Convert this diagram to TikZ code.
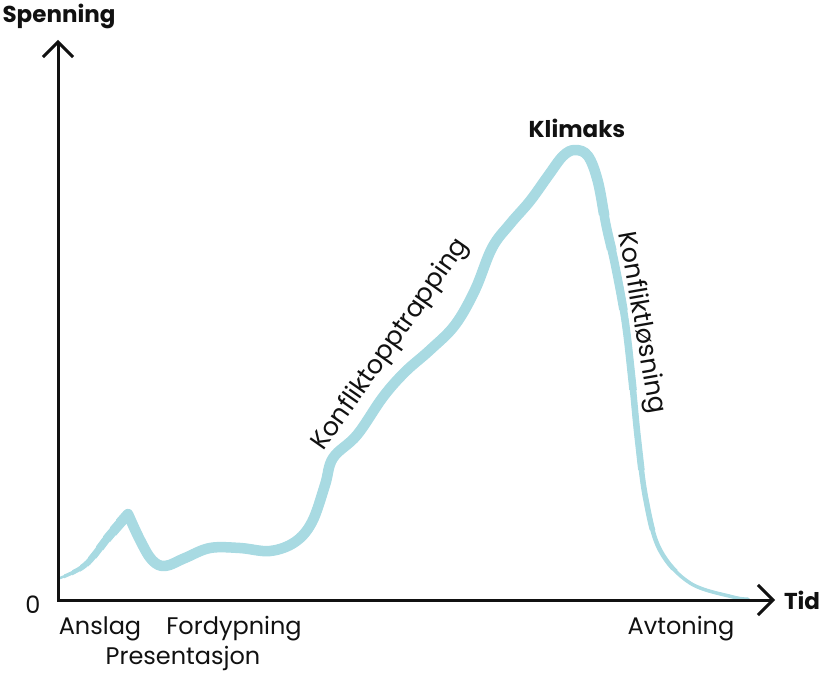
\documentclass[tikz,border=0pt]{standalone}
\usepackage{fontspec}
\setmainfont{Poppins}
\usetikzlibrary{arrows.meta}
\definecolor{kurveblaa}{HTML}{A8DAE2}
\definecolor{tekst}{HTML}{111111}

\begin{document}
\begin{tikzpicture}[
    x=1pt, y=-1pt,
    >={Straight Barb[length=15pt, width=30pt]},
    akse/.style={<->, line width=3pt, tekst, line join=miter},
    kurve/.style={kurveblaa, line cap=round, line join=round},
    kurvebane/.style={insert path={
      plot[smooth, tension=.6] coordinates {
        (60,578) (85,565) (108,537) (128,514)}
      plot[smooth, tension=.6] coordinates {
        (128,514) (140,540) (152,560) (165,566) (185,558) (210,548) (240,548)
        (270,551) (295,542) (312,522) (325,485) (333,458) (357,435) (383,397)
        (405,372) (430,350) (455,325) (475,290) (492,248) (510,224) (530,201)
        (548,176) (563,156) (575,150) (588,156) (598,182) (606,225) (615,265)
        (625,320) (632,380) (638,440) (646,500) (660,550) (690,583) (733,597)
        (748,599)}}},
    lbl/.style={font=\fontsize{24}{28}\selectfont, text=tekst, inner sep=0pt},
    skraa/.style={lbl, font=\fontsize{25.5}{28}\selectfont},
    tittel/.style={lbl, font=\fontsize{23}{26}\selectfont\bfseries}
  ]
  \useasboundingbox (0,0) rectangle (824,674);

  % Akser
  \coordinate (ytop)   at (58,40);
  \coordinate (origo)  at (58,600);
  \coordinate (xend)   at (775,600);

  % Spenningskurve: penselstrek som blir tynnere i endene
  \draw[kurve, line width=2.5pt, kurvebane];
  \foreach \w/\xs/\grense in {3.5/64/610, 4.5/72/570, 5.5/80/530, 6.5/88/470,
                              7.5/96/390, 8.5/103/310, 9.5/110/250, 10.5/116/215} {
    \begin{scope}
      \clip (\xs,0) -- (824,0) -- (824,\grense) -- (592,\grense)
            -- (592,674) -- (\xs,674) -- cycle;
      \draw[kurve, line width=\w pt, kurvebane];
    \end{scope}
  }

  \draw[akse] (ytop) -- (origo) -- (xend);

  % Aksetitler
  \node[tittel, anchor=base] (spenning) at (59,23)  {Spenning};
  \node[tittel, anchor=base] (tid)      at (802,609) {Tid};
  \node[lbl, anchor=base]    (null)     at (33,613)  {0};

  % Faser
  \node[lbl, anchor=base] (anslag)       at (100,634) {Anslag};
  \node[lbl, anchor=base] (fordypning)   at (234,634) {Fordypning};
  \node[lbl, anchor=base] (presentasjon) at (183,664) {Presentasjon};
  \node[lbl, anchor=base] (avtoning)     at (681,634) {Avtoning};
  \node[tittel, anchor=base] (klimaks)   at (577,137) {Klimaks};
  \node[skraa, rotate=55]  (opptrapping) at (391,345) {Konfliktopptrapping};
  \node[skraa, rotate=-80] (losning)     at (641,323) {Konfliktløsning};

\end{tikzpicture}
\end{document}
